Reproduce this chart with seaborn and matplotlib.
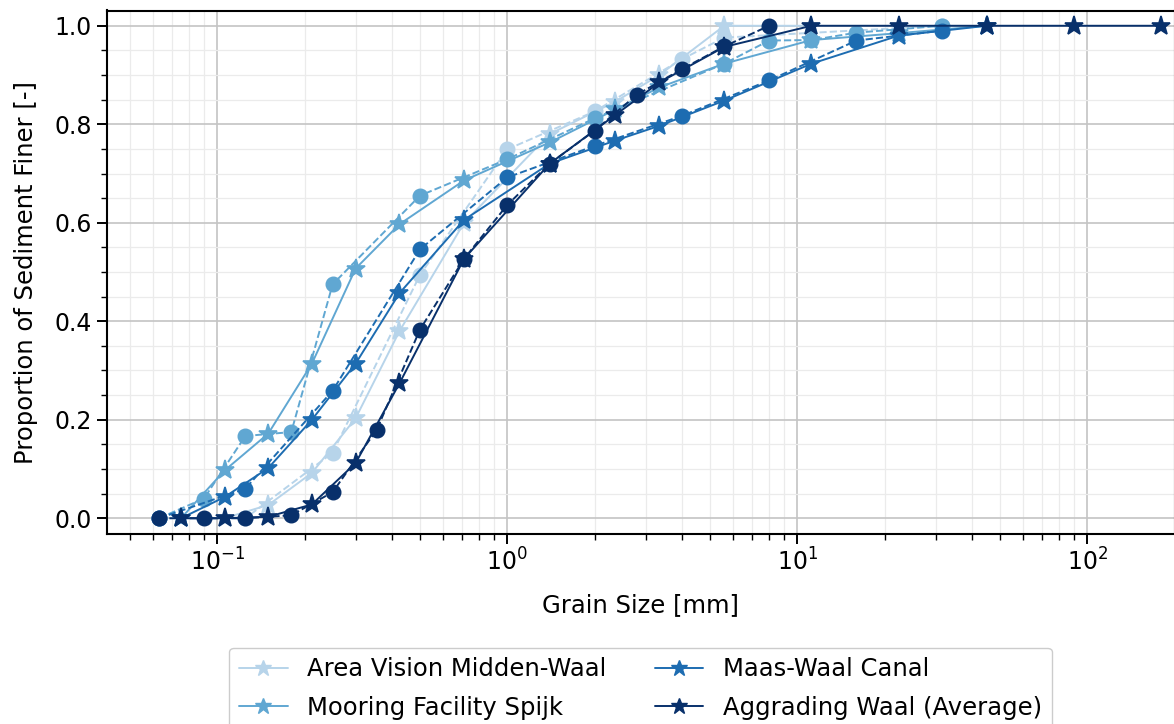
import numpy as np
import pandas as pd
import matplotlib
matplotlib.use("Agg")
import matplotlib.pyplot as plt
from matplotlib.lines import Line2D
import seaborn as sns

# ---- data: grain size [mm] vs proportion finer [-] ----
locations = ["Area Vision Midden-Waal", "Mooring Facility Spijk",
             "Maas-Waal Canal", "Aggrading Waal (Average)"]

# sieve series (stars, solid lines)
av_star_size = [0.075, 0.106, 0.15, 0.212, 0.3, 0.425, 0.71, 1.4, 2.36, 3.35, 5.6, 11.2]
av_star_finer = [0.0, 0.0, 0.027, 0.092, 0.203, 0.38, 0.60, 0.78, 0.846, 0.90, 1.0, 1.0]

mf_star_size = [0.075, 0.106, 0.15, 0.212, 0.3, 0.425, 0.71, 1.4, 2.36, 3.35, 5.6, 11.2, 22.4, 45]
mf_star_finer = [0.0, 0.097, 0.172, 0.314, 0.507, 0.597, 0.686, 0.763, 0.83, 0.875, 0.923, 0.971, 0.985, 1.0]

mw_star_size = [0.075, 0.106, 0.15, 0.212, 0.3, 0.425, 0.71, 1.4, 2.36, 3.35, 5.6, 11.2, 22.4, 45]
mw_star_finer = [0.0, 0.043, 0.102, 0.2, 0.314, 0.457, 0.606, 0.72, 0.767, 0.797, 0.848, 0.923, 0.98, 1.0]

aw_star_size = [0.075, 0.106, 0.15, 0.212, 0.3, 0.425, 0.71, 1.4, 2.36, 3.35, 5.6, 11.2, 22.4, 45, 90, 180]
aw_star_finer = [0.0, 0.0, 0.003, 0.028, 0.112, 0.274, 0.527, 0.72, 0.819, 0.885, 0.957, 1.0, 1.0, 1.0, 1.0, 1.0]

# second series (circles, dashed lines)
av_circ_size = [0.063, 0.125, 0.25, 0.5, 1.0, 2.0, 4.0, 5.6, 31.5]
av_circ_finer = [0.0, 0.0, 0.133, 0.494, 0.749, 0.826, 0.932, 0.976, 1.0]

mf_circ_size = [0.063, 0.09, 0.125, 0.18, 0.25, 0.5, 1.0, 2.0, 5.6, 8.0, 11.2, 16, 31.5]
mf_circ_finer = [0.0, 0.04, 0.167, 0.175, 0.475, 0.655, 0.729, 0.812, 0.923, 0.97, 0.971, 0.986, 1.0]

mw_circ_size = [0.063, 0.125, 0.25, 0.5, 1.0, 2.0, 4.0, 8.0, 16, 31.5]
mw_circ_finer = [0.0, 0.06, 0.259, 0.546, 0.692, 0.756, 0.817, 0.889, 0.97, 0.99]

aw_circ_size = [0.063, 0.09, 0.125, 0.18, 0.25, 0.355, 0.5, 0.71, 1.0, 1.4, 2.0, 2.8, 4.0, 5.6, 8.0]
aw_circ_finer = [0.0, 0.0, 0.0, 0.006, 0.053, 0.18, 0.383, 0.527, 0.636, 0.72, 0.787, 0.86, 0.912, 0.958, 1.0]

star_sets = [(av_star_size, av_star_finer), (mf_star_size, mf_star_finer),
             (mw_star_size, mw_star_finer), (aw_star_size, aw_star_finer)]
circ_sets = [(av_circ_size, av_circ_finer), (mf_circ_size, mf_circ_finer),
             (mw_circ_size, mw_circ_finer), (aw_circ_size, aw_circ_finer)]

frames = []
for loc, (s, f) in zip(locations, star_sets):
    frames.append(pd.DataFrame({"size": s, "finer": f, "location": loc, "method": "sieve"}))
for loc, (s, f) in zip(locations, circ_sets):
    frames.append(pd.DataFrame({"size": s, "finer": f, "location": loc, "method": "other"}))
df = pd.concat(frames, ignore_index=True)

colors = [plt.get_cmap("Blues")(v) for v in np.linspace(0.3, 1.0, 4)]

# ---- figure ----
sns.set_style("white")
plt.rcParams.update({
    "font.family": ["DejaVu Sans"],
    "text.color": "black",
    "axes.labelcolor": "black",
    "xtick.color": "black",
    "ytick.color": "black",
})

fig = plt.figure(figsize=(11.74, 7.24), dpi=100)
ax = fig.add_axes([106.5 / 1174, 190.5 / 724, 1068 / 1174, 523 / 724])
ax.set_xscale("log")

for loc, col in zip(locations, colors):
    sub = df[(df["location"] == loc) & (df["method"] == "sieve")]
    sns.lineplot(data=sub, x="size", y="finer", ax=ax, color=col, marker="*",
                 markersize=14, markeredgewidth=1.2, markeredgecolor=col,
                 linestyle="-", linewidth=1.4, errorbar=None, legend=False, zorder=3)
    sub = df[(df["location"] == loc) & (df["method"] == "other")]
    sns.lineplot(data=sub, x="size", y="finer", ax=ax, color=col, marker="o",
                 markersize=10.5, markeredgewidth=1.0, markeredgecolor=col,
                 linestyle="--", linewidth=1.4, errorbar=None, legend=False, zorder=3)

ax.set_xlim(0.0415, 200)
ax.set_ylim(-0.031, 1.031)
ax.set_yticks([0.0, 0.2, 0.4, 0.6, 0.8, 1.0])
ax.set_yticks(np.arange(0, 1.0001, 0.05), minor=True)

ax.grid(which="major", color="#c4c4c4", linewidth=1.2, zorder=0)
ax.grid(which="minor", color="#ebebeb", linewidth=0.9, zorder=0)
ax.set_axisbelow(True)

for sp in ax.spines.values():
    sp.set_linewidth(1.5)
    sp.set_color("black")

ax.tick_params(axis="both", which="major", labelsize=17, length=7, width=1.4,
               direction="out", bottom=True, left=True, color="black")
ax.tick_params(axis="both", which="minor", length=4, width=1.0,
               bottom=True, left=True, color="black")

ax.set_xlabel("Grain Size [mm]", fontsize=17.5, labelpad=13)
ax.set_ylabel("Proportion of Sediment Finer [-]", fontsize=17.5, labelpad=12)

handles = [Line2D([0], [0], color=c, marker="*", markersize=12, linewidth=1.4)
           for c in colors]
leg = ax.legend(handles, locations, loc="upper center", bbox_to_anchor=(0.5, -0.218),
                ncol=2, fontsize=17.5, frameon=True, fancybox=True, labelspacing=0.6,
                edgecolor="#cccccc", framealpha=1.0, borderaxespad=0.0)

fig.savefig("out.png", dpi=100)
